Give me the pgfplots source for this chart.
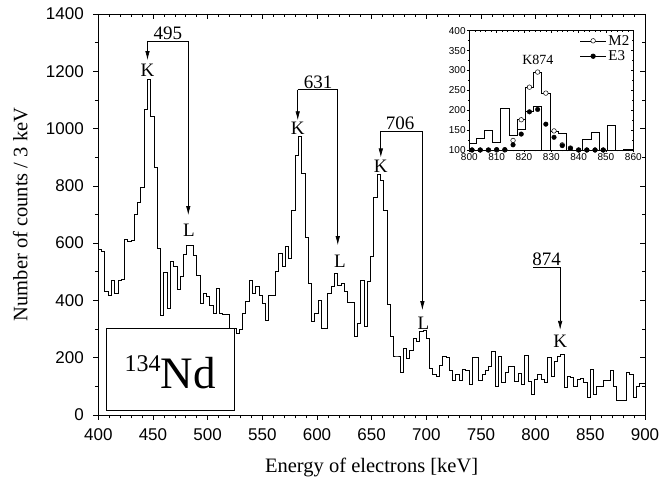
\documentclass[border=0pt]{standalone}
\usepackage{fontspec}
\setmainfont{Liberation Serif}
\setsansfont{Liberation Sans}
\usepackage{pgfplots}
\pgfplotsset{compat=1.18}
\usetikzlibrary{arrows.meta}

\pgfplotstableread{
x y
400 578
403 570
406 430
409 419
412 471
415 425
418 469
421 474
424 613
427 605
430 610
433 701
436 741
439 794
442 1067
445 1172
448 1041
451 864
454 582
457 349
460 498
463 372
466 535
469 517
472 439
475 483
478 560
481 593
484 593
487 558
490 488
493 390
496 425
499 413
502 384
505 355
508 442
511 355
514 352
517 352
520 302
523 302
526 285
529 297
532 355
535 395
538 471
541 425
544 448
547 418
550 390
553 331
556 418
559 418
562 500
565 564
568 517
571 590
574 547
577 715
580 907
583 971
586 843
589 620
592 460
595 326
598 355
601 401
604 302
607 302
610 425
613 448
616 494
619 454
622 460
625 430
628 392
631 392
634 273
637 320
640 471
643 308
646 465
649 555
652 760
655 841
658 820
661 713
664 387
667 273
670 206
673 206
676 148
679 233
682 198
685 227
688 268
691 256
694 291
697 294
700 268
703 163
706 140
709 134
712 174
715 203
718 200
721 157
724 122
727 140
730 120
733 159
736 155
739 105
742 201
745 201
748 122
751 143
754 155
757 171
760 223
763 101
766 206
769 114
772 148
775 171
778 171
781 117
784 145
787 107
790 209
793 117
796 73
799 124
802 140
805 124
808 114
811 201
814 134
817 186
820 206
823 210
826 97
829 136
832 130
835 99
838 124
841 128
844 115
847 62
850 159
853 73
856 99
859 99
862 122
865 122
868 157
871 101
874 52
877 52
880 52
883 148
886 140
889 62
892 100
895 111
898 111
901 111
}\spectrum

\pgfplotstableread{
x y
799.5 117
802.5 129
805.5 149
808.5 118
811.5 205
814.5 138
817.5 152
820.5 198
823.5 211
826.5 100
829.5 148
832.5 142
835.5 100
838.5 100
841.5 127
844.5 144
847.5 100
850.5 162
853.5 100
856.5 102
859.5 102
862.5 102
}\insetexp

\pgfplotstableread{
x y
814.5 138
817.5 178
820.5 258
823.5 295
826.5 243
829.5 148
832.5 142
}\insetmtwo

\pgfplotstableread{
x y
801 100
804 100
807 100
810 100
813 100
816 124
819 176
822 258
825 296
828 243
831 148
834 113
837 105
840 100
843 100
846 100
849 100
}\mtwo

\pgfplotstableread{
x y
801 100
804 100
807 100
810 101
813 101
816 113
819 140
822 196
825 202
828 165
831 132
834 111
837 104
840 100
843 100
846 100
849 100
}\ethree

\begin{document}
\begin{tikzpicture}
\path[use as bounding box] (-98.3pt,-69pt) rectangle (560.7pt,415pt);
\tikzset{ann/.style={line width=0.7pt, -{Latex[length=9pt,width=4.5pt]}},
         annfont/.style={font=\fontsize{19}{22}\selectfont}}
\begin{axis}[
  at={(0pt,0pt)}, anchor=south west,
  scale only axis, width=546.7pt, height=401pt,
  xmin=400, xmax=900, ymin=0, ymax=1400,
  xtick={400,450,...,900}, ytick={0,200,...,1400},
  minor x tick num=4, minor y tick num=1,
  xtick pos=bottom, ytick pos=left,
  tick align=outside,
  major tick length=5pt, minor tick length=3.5pt,
  every tick/.style={black, line width=0.6pt},
  axis line style={line width=0.8pt},
  /pgf/number format/assume math mode=true,
  /pgf/number format/1000 sep={},
  tick label style={font=\sffamily\fontsize{17}{20}\selectfont},
  yticklabel style={xshift=-6pt},
  xticklabel style={yshift=-5pt},
  xlabel={Energy of electrons [keV]},
  ylabel={Number of counts / 3 keV},
  label style={font=\fontsize{20.5}{24}\selectfont},
  xlabel style={at={(axis description cs:0.5,-0.13)}, anchor=center},
  ylabel style={at={(axis description cs:-0.1427,0.5)}, anchor=center},
]
\addplot[const plot mark left, black, line width=0.9pt] table {\spectrum};

% 495
\draw[ann] (axis cs:445,1306) -- (axis cs:445,1239);
\draw[ann] (axis cs:445,1306) -- (axis cs:482.3,1306) -- (axis cs:482.3,698);
\node[annfont, anchor=south, inner sep=1pt] at (axis cs:463.7,1306) {495};
\node[annfont] at (axis cs:445,1204) {K};
\node[annfont] at (axis cs:483,645) {L};
% 631
\draw[ann] (axis cs:582.4,1136) -- (axis cs:582.4,1029);
\draw[ann] (axis cs:582.4,1136) -- (axis cs:619,1136) -- (axis cs:619,593);
\node[annfont, anchor=south, inner sep=1pt] at (axis cs:601,1136) {631};
\node[annfont] at (axis cs:582.4,1000) {K};
\node[annfont] at (axis cs:621,535) {L};
% 706
\draw[ann] (axis cs:658.4,992) -- (axis cs:658.4,899);
\draw[ann] (axis cs:658.4,992) -- (axis cs:696.4,992) -- (axis cs:696.4,366);
\node[annfont, anchor=south, inner sep=1pt] at (axis cs:676,992) {706};
\node[annfont] at (axis cs:658.4,869) {K};
\node[annfont] at (axis cs:697.4,320) {L};
% 874
\draw[ann] (axis cs:798,517) -- (axis cs:822.4,517) -- (axis cs:822.4,297);
\node[annfont, anchor=south, inner sep=1pt] at (axis cs:810,517) {874};
\node[annfont] at (axis cs:822.4,256) {K};

% 134Nd box
\draw[line width=0.7pt, fill=white] (axis cs:407.7,15) rectangle (axis cs:524.2,302);
\node[anchor=base, inner sep=0pt] at (axis cs:465.7,93) {\fontsize{24}{24}\selectfont\raisebox{16.6pt}{134}\fontsize{45}{45}\selectfont Nd};
\end{axis}

% mirror ticks top/right (inside)
\begin{axis}[
  at={(0pt,0pt)}, anchor=south west,
  scale only axis, width=546.7pt, height=401pt,
  xmin=400, xmax=900, ymin=0, ymax=1400,
  xtick={400,450,...,900}, ytick={0,200,...,1400},
  minor x tick num=4, minor y tick num=1,
  axis x line*=top, axis y line*=right,
  tick align=inside,
  major tick length=5pt, minor tick length=3.5pt,
  every tick/.style={black, line width=0.6pt},
  axis line style={line width=0.8pt, -},
  xticklabels={}, yticklabels={},
]
\end{axis}

% inset
\begin{axis}[
  at={(371pt,265pt)}, anchor=south west,
  scale only axis, width=164pt, height=119.3pt,
  xmin=800, xmax=860, ymin=100, ymax=400,
  xtick={800,810,...,860}, ytick={100,150,...,400},
  minor x tick num=4, minor y tick num=1,
  xtick pos=bottom, ytick pos=left,
  tick align=outside,
  major tick length=2.5pt, minor tick length=1.5pt,
  every tick/.style={black, line width=0.5pt},
  axis line style={line width=0.7pt},
  axis background/.style={fill=white},
  /pgf/number format/assume math mode=true,
  /pgf/number format/1000 sep={},
  tick label style={font=\sffamily\fontsize{10}{11}\selectfont, inner sep=1pt},
  legend style={draw=none, fill=none, at={(0.995,0.99)}, anchor=north east,
    font=\fontsize{15}{17}\selectfont, inner sep=1pt, row sep=0pt},
  legend cell align=left,
  legend image code/.code={\draw[mark repeat=2,mark phase=2,#1] plot coordinates {(0pt,0pt)(13pt,0pt)(26pt,0pt)};},
]
\addplot[const plot mark left, black, line width=0.7pt, forget plot] table {\insetexp};
\addplot[const plot mark left, black, line width=0.7pt, forget plot] table {\insetmtwo};
\addplot[only marks, mark=*, mark options={fill=white, draw=black, line width=0.5pt}, mark size=2.3pt, forget plot] table {\mtwo};
\addplot[only marks, mark=*, black, mark size=2.3pt, forget plot] table {\ethree};
\addlegendimage{black, line width=0.6pt, mark=*, mark options={fill=white, line width=0.5pt}, mark size=2.3pt}
\addlegendentry{M2}
\addlegendimage{black, line width=0.6pt, mark=*, mark options={fill=black}, mark size=2.3pt}
\addlegendentry{E3}
\node[font=\fontsize{14}{15}\selectfont] at (axis cs:825.1,326) {K874};
\end{axis}

\begin{axis}[
  at={(371pt,265pt)}, anchor=south west,
  scale only axis, width=164pt, height=119.3pt,
  xmin=800, xmax=860, ymin=100, ymax=400,
  xtick={800,810,...,860}, ytick={100,150,...,400},
  minor x tick num=4, minor y tick num=1,
  axis x line*=top, axis y line*=right,
  tick align=inside,
  major tick length=2.5pt, minor tick length=1.5pt,
  every tick/.style={black, line width=0.5pt},
  axis line style={line width=0.7pt, -},
  xticklabels={}, yticklabels={},
]
\end{axis}
\end{tikzpicture}
\end{document}
